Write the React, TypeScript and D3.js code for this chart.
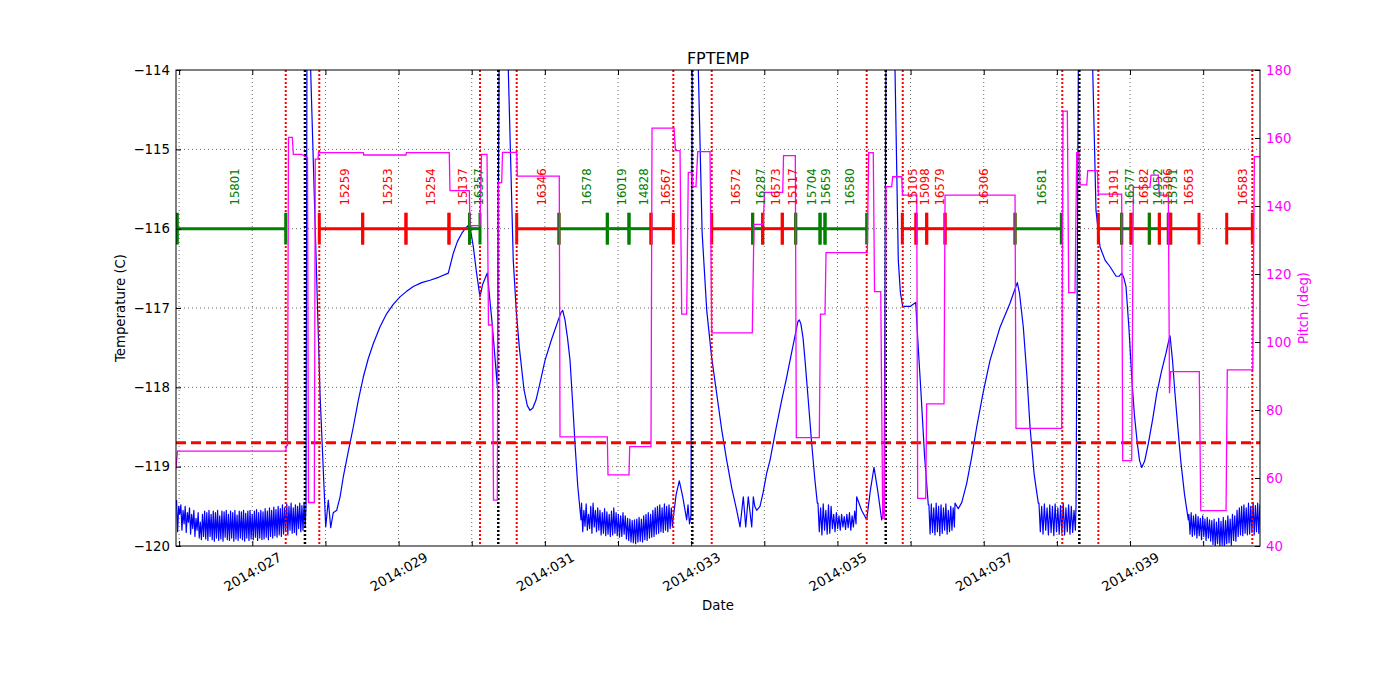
import * as d3 from 'd3';
import React, { useEffect, useRef } from 'react';

// all times are fractional day-of-year 2014
const xStart = 25.957;
const xStop = 40.777;

const radZoneTimes = [27.457, 27.916, 30.113, 30.615, 32.756, 33.281, 35.400, 35.893, 38.074, 38.567, 40.672];
const perigeeTimes = [27.720, 30.363, 33.016, 35.660, 38.307];
const planLimit = -118.7;

const obsIds = ['15801', '15259', '15253', '15254', '15137', '16357', '16346', '16578', '16019', '14828', '16567',
  '16572', '16287', '16573', '15117', '15704', '15659', '16580', '15105', '15098', '16579', '16306', '16581',
  '15191', '16577', '16582', '14952', '15306', '15751', '16563', '16583'];
const obsStart = [25.975, 27.916, 28.509, 29.101, 29.689, 29.970, 30.615, 31.193, 31.854, 32.150, 32.451,
  33.281, 33.841, 33.978, 34.246, 34.429, 34.762, 34.830, 35.887, 36.074, 36.220, 36.471, 37.428,
  38.567, 38.886, 39.014, 39.264, 39.401, 39.524, 39.556, 40.322];
const obsStop = [27.457, 28.509, 29.101, 29.689, 29.970, 30.113, 31.193, 31.854, 32.150, 32.451, 32.756,
  33.841, 33.978, 34.246, 34.429, 34.762, 34.830, 35.400, 36.074, 36.220, 36.471, 37.428, 38.061,
  38.886, 39.014, 39.264, 39.401, 39.524, 39.556, 39.943, 40.672];
const obsOk = [true, false, false, false, false, true, false, true, true, true, false,
  false, true, false, false, true, true, true, false, false, false, false, true,
  false, true, false, true, false, true, false, false];

const pitchTimes = [25.957, 25.977, 27.457, 27.468, 27.481, 27.495, 27.547, 27.561, 27.675, 27.744,
  27.755, 27.768, 27.848, 27.861, 27.898, 27.905, 28.518, 28.524, 29.101, 29.108,
  29.693, 29.703, 29.967, 29.976, 30.113, 30.134, 30.209, 30.229, 30.281, 30.298,
  30.350, 30.363, 30.410, 30.421, 30.615, 30.623, 31.197, 31.207, 31.854, 31.863,
  32.150, 32.160, 32.451, 32.465, 32.766, 32.786, 32.848, 32.871, 32.939, 32.961,
  33.008, 33.025, 33.066, 33.090, 33.258, 33.281, 33.836, 33.859, 33.986, 34.003,
  34.252, 34.263, 34.424, 34.438, 34.752, 34.768, 34.830, 34.844, 35.408, 35.427,
  35.490, 35.507, 35.592, 35.619, 35.643, 35.664, 35.742, 35.756, 35.879, 35.890,
  36.084, 36.097, 36.207, 36.220, 36.457, 36.471, 37.428, 37.441, 38.066, 38.084,
  38.143, 38.162, 38.248, 38.271, 38.303, 38.316, 38.408, 38.422, 38.553, 38.567,
  38.886, 38.900, 39.023, 39.045, 39.273, 39.287, 39.387, 39.401, 39.524, 39.540,
  39.554, 39.947, 39.967, 40.313, 40.330, 40.678, 40.700, 40.777];
const pitchValues = [62.9, 67.9, 67.9, 69.5, 69.5, 160.2, 160.2, 155.2, 155.2, 154.2,
  154.2, 52.8, 52.8, 153.8, 153.8, 155.7, 155.7, 155.0, 155.0, 155.7,
  155.7, 144.5, 144.5, 134.2, 134.2, 155.2, 155.2, 105.0, 105.0, 53.5,
  53.5, 146.9, 146.9, 155.8, 155.8, 148.8, 148.8, 72.1, 72.1, 60.9,
  60.9, 69.2, 69.2, 162.9, 162.9, 156.3, 156.3, 108.2, 108.2, 149.9,
  149.9, 145.7, 145.7, 156.0, 156.0, 102.7, 102.7, 134.6, 134.6, 144.0,
  144.0, 154.8, 154.8, 71.9, 71.9, 108.2, 108.2, 126.3, 126.3, 155.7,
  155.7, 114.8, 114.8, 48.1, 48.1, 145.7, 145.7, 148.6, 148.6, 143.2,
  143.2, 54.0, 54.0, 81.8, 81.8, 143.2, 143.2, 74.6, 74.6, 167.9,
  167.9, 114.5, 114.5, 155.7, 155.7, 146.2, 146.2, 150.4, 150.4, 143.5,
  143.5, 65.1, 65.1, 145.5, 145.5, 149.1, 149.1, 143.2, 143.2, 84.9,
  91.3, 91.3, 50.4, 50.4, 91.8, 91.8, 154.5, 154.5];

// FPTEMP outside the noisy cold stretches: [doy, degC]
const tempTrace: [number, number][] = [
  [27.734, -119.50], [27.768, -105], [27.798, -114], [27.926, -118.08], [28.004, -119.76],
  [28.039, -119.42], [28.072, -119.77], [28.107, -119.58], [28.154, -119.55], [28.200, -119.38],
  [28.244, -119.13], [28.310, -118.82], [28.381, -118.50], [28.450, -118.16], [28.518, -117.87],
  [28.585, -117.64], [28.654, -117.45], [28.745, -117.24], [28.838, -117.07], [28.930, -116.95],
  [29.019, -116.86], [29.110, -116.79], [29.201, -116.73], [29.315, -116.68], [29.430, -116.65],
  [29.555, -116.61], [29.680, -116.56], [29.748, -116.31], [29.805, -116.16], [29.863, -116.06],
  [29.910, -116.00], [29.953, -115.96], [29.985, -116.02], [30.022, -116.23], [30.065, -116.55],
  [30.113, -116.86], [30.150, -116.70], [30.213, -116.56], [30.280, -117.20], [30.350, -117.99],
  [30.428, -105], [30.500, -114], [30.568, -116.40], [30.610, -117.05], [30.651, -117.50],
  [30.715, -118.03], [30.760, -118.23], [30.797, -118.29], [30.835, -118.26], [30.879, -118.16],
  [30.940, -117.92], [31.002, -117.66], [31.090, -117.40], [31.184, -117.15], [31.220, -117.06],
  [31.244, -117.03], [31.275, -117.15], [31.310, -117.38], [31.344, -117.66], [31.380, -118.20],
  [31.412, -118.71], [31.450, -119.25], [31.494, -119.67],
  [32.752, -119.67], [32.795, -119.35], [32.838, -119.18], [32.885, -119.38], [32.939, -119.67],
  [32.957, -119.48], [32.977, -119.72], [32.998, -119.61], [33.039, -105], [33.098, -114],
  [33.150, -116.05], [33.213, -117.03], [33.280, -117.62], [33.349, -118.08], [33.420, -118.55],
  [33.486, -118.92], [33.555, -119.27], [33.623, -119.55], [33.668, -119.76], [33.713, -119.38],
  [33.746, -119.76], [33.781, -119.38], [33.828, -119.76], [33.850, -119.38], [33.870, -119.50],
  [33.896, -119.55], [33.941, -119.50], [33.985, -119.32], [34.033, -119.08], [34.078, -118.92],
  [34.160, -118.52], [34.238, -118.16], [34.300, -117.90], [34.352, -117.66], [34.420, -117.35],
  [34.460, -117.17], [34.479, -117.15], [34.500, -117.20], [34.530, -117.38], [34.557, -117.66],
  [34.600, -118.15], [34.648, -118.71], [34.690, -119.15], [34.725, -119.46],
  [35.263, -119.38], [35.330, -119.55], [35.400, -119.67], [35.450, -119.30], [35.500, -119.01],
  [35.550, -119.30], [35.605, -119.67], [35.637, -119.55], [35.705, -105], [35.787, -114],
  [35.832, -116.40], [35.860, -116.80], [35.892, -116.98], [35.992, -116.98], [36.070, -116.93],
  [36.105, -117.50], [36.143, -118.08], [36.190, -118.85], [36.242, -119.48],
  [36.607, -119.46], [36.652, -119.53], [36.700, -119.45], [36.767, -119.21], [36.835, -118.88],
  [36.904, -118.50], [36.995, -118.05], [37.086, -117.66], [37.220, -117.25], [37.359, -116.94],
  [37.420, -116.78], [37.459, -116.68], [37.490, -116.82], [37.541, -117.24], [37.590, -117.85],
  [37.633, -118.50], [37.690, -119.10], [37.746, -119.46],
  [38.262, -119.48], [38.344, -105], [38.490, -114], [38.535, -115.77], [38.590, -116.23],
  [38.660, -116.40], [38.727, -116.48], [38.809, -116.60], [38.850, -116.60], [38.886, -116.56],
  [38.915, -116.62], [38.945, -116.73], [38.985, -117.25], [39.023, -117.87], [39.060, -118.35],
  [39.100, -118.71], [39.130, -118.92], [39.160, -119.01], [39.200, -118.93], [39.250, -118.71],
  [39.310, -118.40], [39.365, -118.08], [39.430, -117.80], [39.492, -117.57], [39.525, -117.43],
  [39.547, -117.35], [39.580, -117.65], [39.615, -118.08], [39.655, -118.52], [39.693, -118.92],
  [39.745, -119.35], [39.797, -119.67],
];

// evenly sampled noisy stretches near -119.7
const noiseStart = [25.957, 31.494, 34.725, 36.242, 37.746, 39.797];
const noiseEnd = [27.730, 32.752, 35.263, 36.607, 38.262, 40.800];
const noiseValues = [
  [-119.42, -119.82, -119.50, -119.60, -119.48, -119.80, -119.55, -119.72, -119.50, -119.83, -119.58, -119.70, -119.52,
    -119.85, -119.60, -119.78, -119.55, -119.88, -119.65, -119.80, -119.58, -119.90, -119.70, -119.92, -119.60, -119.88,
    -119.56, -119.91, -119.58, -119.93, -119.55, -119.88, -119.60, -119.92, -119.56, -119.94, -119.58, -119.90, -119.55,
    -119.93, -119.62, -119.91, -119.56, -119.94, -119.57, -119.89, -119.55, -119.92, -119.60, -119.93, -119.56, -119.90,
    -119.58, -119.94, -119.55, -119.91, -119.61, -119.93, -119.56, -119.90, -119.57, -119.92, -119.55, -119.94, -119.59,
    -119.90, -119.56, -119.93, -119.55, -119.91, -119.60, -119.92, -119.56, -119.89, -119.54, -119.93, -119.58, -119.90,
    -119.55, -119.92, -119.57, -119.91, -119.53, -119.89, -119.56, -119.92, -119.52, -119.88, -119.55, -119.90, -119.51,
    -119.87, -119.54, -119.89, -119.50, -119.86, -119.53, -119.88,
    -119.48, -119.85, -119.52, -119.82, -119.47, -119.86, -119.50, -119.80, -119.46, -119.84, -119.52, -119.83, -119.48,
    -119.86, -119.50, -119.78, -119.46, -119.82, -119.49, -119.80, -119.45, -119.76],
  [-119.46, -119.82, -119.55, -119.75, -119.47, -119.80, -119.60, -119.78, -119.50, -119.84, -119.46, -119.76, -119.55,
    -119.82, -119.52, -119.80,
    -119.55, -119.86, -119.58, -119.84, -119.53, -119.87, -119.57, -119.85, -119.60, -119.88, -119.56, -119.86, -119.52,
    -119.84, -119.58, -119.87, -119.60, -119.89, -119.62, -119.88, -119.58, -119.85,
    -119.62, -119.91, -119.65, -119.93, -119.66, -119.95, -119.68, -119.96, -119.67, -119.97, -119.66, -119.95, -119.64,
    -119.94, -119.66, -119.95, -119.62, -119.92, -119.60, -119.93, -119.58, -119.90, -119.60, -119.89, -119.55, -119.88,
    -119.52, -119.85, -119.50, -119.84, -119.48, -119.82, -119.52, -119.83, -119.47, -119.80, -119.50, -119.82, -119.48,
    -119.78, -119.52, -119.76],
  [-119.46, -119.82, -119.52, -119.86, -119.47, -119.80, -119.55, -119.85, -119.48, -119.84, -119.50, -119.78, -119.60,
    -119.82, -119.58, -119.78, -119.62, -119.80, -119.60, -119.76, -119.63, -119.79, -119.60, -119.77, -119.58, -119.80,
    -119.62, -119.76, -119.56, -119.72],
  [-119.48, -119.85, -119.47, -119.83, -119.52, -119.86, -119.46, -119.82, -119.50, -119.87, -119.48, -119.84, -119.52,
    -119.80, -119.47, -119.85, -119.55, -119.82, -119.50, -119.80, -119.52, -119.76],
  [-119.46, -119.82, -119.50, -119.85, -119.47, -119.80, -119.52, -119.86, -119.48, -119.83, -119.50, -119.87, -119.47,
    -119.82, -119.52, -119.85, -119.49, -119.84, -119.46, -119.86, -119.52, -119.82, -119.48, -119.85, -119.50, -119.83,
    -119.55, -119.80],
  [-119.60, -119.85, -119.58, -119.88, -119.62, -119.86, -119.60, -119.90, -119.63, -119.87, -119.65, -119.92, -119.62,
    -119.88, -119.66, -119.93, -119.64, -119.90, -119.67, -119.94,
    -119.68, -119.98, -119.66, -120.02, -119.70, -119.97, -119.65, -120.01, -119.69, -119.99, -119.64, -120.03, -119.68,
    -119.97, -119.62, -119.96, -119.66, -119.99, -119.60, -119.93, -119.62, -119.94,
    -119.55, -119.88, -119.52, -119.86, -119.50, -119.87, -119.48, -119.84, -119.52, -119.86, -119.46, -119.85, -119.50,
    -119.83, -119.45, -119.86, -119.49, -119.82, -119.46, -119.84, -119.48, -119.80],
];

const W = 1400;
const H = 700;
const left = 176;
const right = 1260;
const top = 70;
const bottom = 546;
const font = '"DejaVu Sans", sans-serif';

const doyDate = (d: number) => new Date(Date.UTC(2014, 0, 1) + (d - 1) * 864e5);

export default function App() {
  const svgRef = useRef<SVGSVGElement | null>(null);

  useEffect(() => {
    const svg = d3.select(svgRef.current);
    svg.selectAll('*').remove();

    const x = d3.scaleUtc().domain([doyDate(xStart), doyDate(xStop)]).range([left, right]);
    const yT = d3.scaleLinear().domain([-120, -114]).range([bottom, top]);
    const yP = d3.scaleLinear().domain([40, 180]).range([bottom, top]);
    const xd = (d: number) => x(doyDate(d));

    svg.append('rect').attr('width', W).attr('height', H).attr('fill', '#fff');
    svg.append('defs').append('clipPath').attr('id', 'plotclip')
      .append('rect').attr('x', left).attr('y', top).attr('width', right - left).attr('height', bottom - top);

    const days = d3.utcDay.range(doyDate(26), doyDate(41));
    const fmt = d3.utcFormat('%Y:%j');
    const dayNum = d3.utcFormat('%j');

    // grid
    const grid = svg.append('g').attr('stroke', '#000').attr('stroke-width', 0.6).attr('stroke-dasharray', '1,3');
    grid.selectAll('line.v').data(days).join('line')
      .attr('x1', d => x(d)).attr('x2', d => x(d)).attr('y1', top).attr('y2', bottom);
    grid.selectAll('line.h').data(d3.range(-119, -114)).join('line')
      .attr('x1', left).attr('x2', right).attr('y1', d => yT(d)).attr('y2', d => yT(d));

    const plot = svg.append('g').attr('clip-path', 'url(#plotclip)');

    // temperature
    const temp: [number, number][] = [...tempTrace];
    noiseStart.forEach((s, i) => {
      const vals = noiseValues[i];
      const step = (noiseEnd[i] - s) / vals.length;
      vals.forEach((v, j) => temp.push([s + (j + 0.5) * step, v]));
    });
    temp.sort((a, b) => a[0] - b[0]);
    plot.append('path').datum(temp)
      .attr('fill', 'none').attr('stroke', '#0000ff').attr('stroke-width', 1.2).attr('stroke-linejoin', 'round')
      .attr('d', d3.line<[number, number]>().x(d => xd(d[0])).y(d => yT(d[1])));

    // planning limit
    plot.append('line').attr('x1', left).attr('x2', right).attr('y1', yT(planLimit)).attr('y2', yT(planLimit))
      .attr('stroke', '#ff0000').attr('stroke-width', 3).attr('stroke-dasharray', '10,5');

    // radiation zone and perigee markers
    plot.selectAll('line.rz').data(radZoneTimes).join('line')
      .attr('x1', d => xd(d)).attr('x2', d => xd(d)).attr('y1', top).attr('y2', bottom)
      .attr('stroke', '#ff0000').attr('stroke-width', 2).attr('stroke-dasharray', '2,2');
    plot.selectAll('line.pg').data(perigeeTimes).join('line')
      .attr('x1', d => xd(d)).attr('x2', d => xd(d)).attr('y1', top).attr('y2', bottom)
      .attr('stroke', '#000').attr('stroke-width', 2.5).attr('stroke-dasharray', '2,2');

    // observations
    const obs = obsIds.map((id, i) => ({ id, a: obsStart[i], b: obsStop[i], c: obsOk[i] ? '#008000' : '#ff0000' }));
    const yo = yT(-116);
    const cap = yT(-116) - yT(-115.8);
    const og = plot.append('g');
    obs.forEach(o => {
      const g = og.append('g').attr('stroke', o.c).attr('stroke-width', 3);
      g.append('line').attr('x1', xd(o.a)).attr('x2', xd(o.b)).attr('y1', yo).attr('y2', yo);
      g.append('line').attr('x1', xd(o.a)).attr('x2', xd(o.a)).attr('y1', yo - cap).attr('y2', yo + cap);
      g.append('line').attr('x1', xd(o.b)).attr('x2', xd(o.b)).attr('y1', yo - cap).attr('y2', yo + cap);
    });
    svg.append('g').selectAll('text').data(obs).join('text')
      .attr('transform', d => `translate(${xd((d.a + d.b) / 2) + 7.8},205.5) rotate(-90)`)
      .attr('fill', d => d.c).attr('font-family', font).attr('font-size', 11.7)
      .text(d => d.id);

    // pitch
    plot.append('path').datum(pitchTimes.map((t, i) => [t, pitchValues[i]] as [number, number]))
      .attr('fill', 'none').attr('stroke', '#ff00ff').attr('stroke-width', 1.3)
      .attr('d', d3.line<[number, number]>().x(d => xd(d[0])).y(d => yP(d[1])));

    // axes
    const bx = svg.append('g').attr('transform', `translate(0,${bottom})`)
      .call(d3.axisBottom(x).tickValues(days).tickSizeInner(-5).tickSizeOuter(0)
        .tickFormat(d => (parseInt(dayNum(d as Date), 10) % 2 ? fmt(d as Date) : '')));
    bx.select('.domain').remove();
    bx.attr('font-family', font).attr('font-size', 13.3);
    bx.selectAll('text').attr('y', 0).attr('dy', null)
      .attr('transform', 'translate(0,26) rotate(-30)').attr('dominant-baseline', 'central');

    const tx = svg.append('g').attr('transform', `translate(0,${top})`)
      .call(d3.axisTop(x).tickValues(days).tickSizeInner(-5).tickSizeOuter(0).tickFormat(() => ''));
    tx.select('.domain').remove();

    const ly = svg.append('g').attr('transform', `translate(${left},0)`)
      .call(d3.axisLeft(yT).tickValues(d3.range(-120, -113)).tickSizeInner(-5).tickSizeOuter(0).tickPadding(6)
        .tickFormat(d3.format('d')));
    ly.select('.domain').remove();
    ly.attr('font-family', font).attr('font-size', 13.3);

    const ry = svg.append('g').attr('transform', `translate(${right},0)`)
      .call(d3.axisRight(yP).tickValues(d3.range(40, 181, 20)).tickSizeInner(-5).tickSizeOuter(0).tickPadding(6));
    ry.select('.domain').remove();
    ry.attr('font-family', font).attr('font-size', 13.3);
    ry.selectAll('text').attr('fill', '#ff00ff');

    svg.append('rect').attr('x', left).attr('y', top).attr('width', right - left).attr('height', bottom - top)
      .attr('fill', 'none').attr('stroke', '#000').attr('stroke-width', 1);

    // titles
    svg.append('text').attr('x', (left + right) / 2).attr('y', 64).attr('text-anchor', 'middle')
      .attr('font-family', font).attr('font-size', 16).text('FPTEMP');
    svg.append('text').attr('x', (left + right) / 2).attr('y', 605).attr('text-anchor', 'middle')
      .attr('dominant-baseline', 'central').attr('font-family', font).attr('font-size', 13.3).text('Date');
    svg.append('text').attr('transform', `translate(120,${(top + bottom) / 2}) rotate(-90)`)
      .attr('text-anchor', 'middle').attr('dominant-baseline', 'central')
      .attr('font-family', font).attr('font-size', 13.3).text('Temperature (C)');
    svg.append('text').attr('transform', `translate(1303,${(top + bottom) / 2}) rotate(-90)`)
      .attr('text-anchor', 'middle').attr('dominant-baseline', 'central').attr('fill', '#ff00ff')
      .attr('font-family', font).attr('font-size', 13.3).text('Pitch (deg)');
  }, []);

  return (
    <svg ref={svgRef} width={W} height={H} style={{ position: 'absolute', left: 0, top: 0 }} />
  );
}
